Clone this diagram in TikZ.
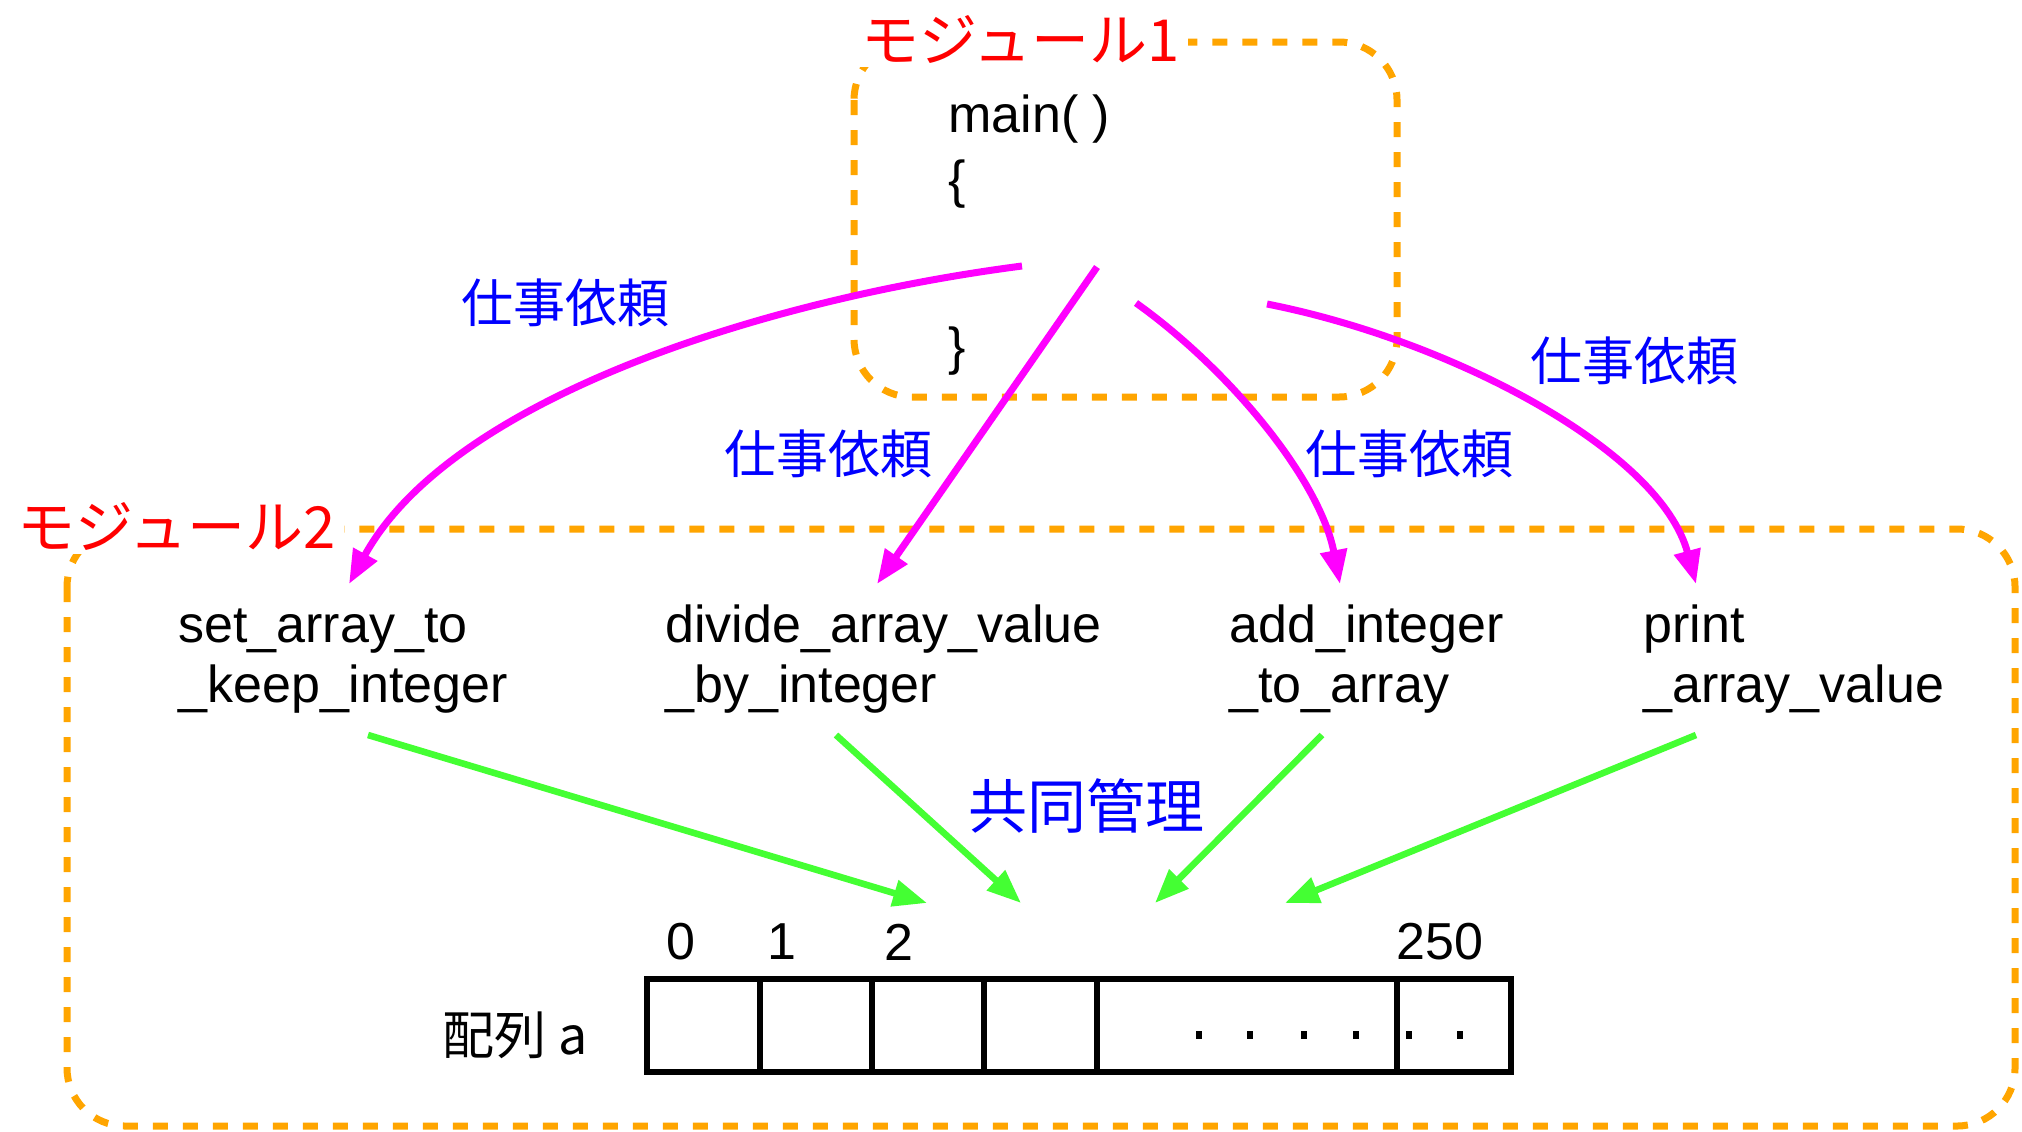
\documentclass[tikz,border=0pt]{standalone}
\usepackage{fontspec}
\setmainfont{Liberation Sans}
\newfontfamily\jp{Noto Sans CJK JP}
\usetikzlibrary{arrows.meta}
\definecolor{orangeA}{RGB}{255,165,0}
\definecolor{magA}{RGB}{255,0,255}
\definecolor{grnA}{RGB}{68,255,51}
\begin{document}
\begin{tikzpicture}[x=0.5pt,y=-0.5pt,
  lat/.style={font=\fontsize{26pt}{30pt}\selectfont, inner sep=0pt, align=left},
  jlabel/.style={font=\jp\fontsize{26pt}{30pt}\selectfont, text=blue, inner sep=0pt},
  modlabel/.style={font=\jp\fontsize{29pt}{32pt}\selectfont, text=red, fill=white, inner xsep=4pt, inner ysep=2pt},
  modbox/.style={draw=orangeA, line width=3.5pt, dash pattern=on 7.5pt off 7.5pt, rounded corners=29pt},
  req/.style={draw=magA, line width=3.5pt, -{Triangle[length=17pt,width=13pt]}},
  share/.style={draw=grnA, line width=3.3pt, -{Triangle[length=17pt,width=13pt]}},
  cellbox/.style={draw=black, line width=3pt},
  dotmark/.style={fill=black},
]
\useasboundingbox (0,0) rectangle (2022,1131);

% module boxes
\draw[modbox] (854,42) rectangle (1397,397);
\draw[modbox] (67,529) rectangle (2015,1126);

\node[modlabel, anchor=west] (m1) at (853,39) {モジュール1};
\node[modlabel, anchor=west] (m2) at (9,526) {モジュール2};

% main code
\node[lat, anchor=west] (main) at (948,119) {main( )};
\node[lat, anchor=west] (ob) at (948,184) {\{};
\node[lat, anchor=west] (cb) at (948,351) {\}};

% functions
\node[lat, anchor=base west] (f1) at (178,702) {set\_array\_to\\\_keep\_integer};
\node[lat, anchor=base west] (f2) at (665,702) {divide\_array\_value\\\_by\_integer};
\node[lat, anchor=base west] (f3) at (1229,702) {add\_integer\\\_to\_array};
\node[lat, anchor=base west] (f4) at (1643,702) {print\\\_array\_value};

% request arrows
\coordinate (s1) at (1022,266);
\coordinate (s2) at (1097,267);
\coordinate (s3) at (1136,303);
\coordinate (s4) at (1267,304);
\coordinate (t1) at (349,584);
\coordinate (t2) at (877,584);
\coordinate (t3) at (1340,584);
\coordinate (t4) at (1696,584);
\draw[req] (s1) .. controls (760,300) and (450,400) .. (t1);
\draw[req] (s2) -- (t2);
\draw[req] (s3) .. controls (1230,370) and (1320,480) .. (t3);
\draw[req] (s4) .. controls (1450,340) and (1660,450) .. (t4);

\node[jlabel] (l1) at (565,303) {仕事依頼};
\node[jlabel] (l2) at (828,454) {仕事依頼};
\node[jlabel] (l3) at (1409,454) {仕事依頼};
\node[jlabel] (l4) at (1634,361) {仕事依頼};

% shared management arrows
\coordinate (g1) at (368,735);
\coordinate (g2) at (836,735);
\coordinate (g3) at (1322,735);
\coordinate (g4) at (1696,735);
\coordinate (h1) at (927,903);
\coordinate (h2) at (1021,903);
\coordinate (h3) at (1155,903);
\coordinate (h4) at (1285,903);
\draw[share] (g1) -- (h1);
\draw[share] (g2) -- (h2);
\draw[share] (g3) -- (h3);
\draw[share] (g4) -- (h4);
\node[jlabel, font=\jp\fontsize{29.5pt}{32pt}\selectfont] (kyodo) at (1086,806) {共同管理};

% array
\draw[cellbox] (647,979) rectangle (1511,1072);
\foreach \xx in {760,872,984,1097,1397} \draw[cellbox] (\xx,979) -- (\xx,1072);
\foreach \xx in {1199,1250,1304,1356,1409,1460} \fill[dotmark] (\xx-3,1031) rectangle (\xx+3,1039);

\node[lat] (i0) at (681,942) {0};
\node[lat] (i1) at (782,942) {1};
\node[lat] (i2) at (899,942) {2};
\node[lat] (i250) at (1440,942) {250};
\node[lat, font=\jp\fontsize{26pt}{30pt}\selectfont, anchor=west] (arr) at (442,1035) {配列 a};
\end{tikzpicture}
\end{document}
